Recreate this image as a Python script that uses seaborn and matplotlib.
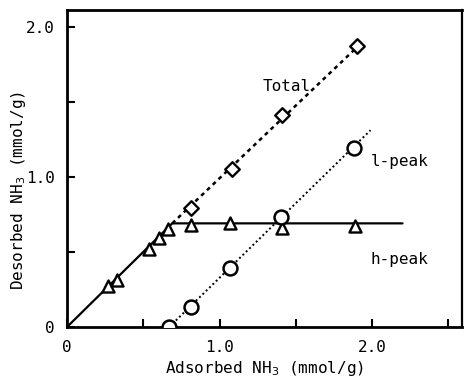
import matplotlib
matplotlib.use("Agg")
import matplotlib.pyplot as plt
import seaborn as sns
import pandas as pd

# Measured points: adsorbed vs desorbed NH3 (mmol/g)
total_x = [0.81, 1.08, 1.41, 1.90]
total_y = [0.79, 1.05, 1.41, 1.87]

lpeak_x = [0.67, 0.81, 1.07, 1.40, 1.88]
lpeak_y = [0.00, 0.13, 0.39, 0.73, 1.19]

hpeak_x = [0.27, 0.33, 0.54, 0.60, 0.66, 0.81, 1.07, 1.41, 1.89]
hpeak_y = [0.27, 0.31, 0.52, 0.59, 0.65, 0.68, 0.69, 0.66, 0.67]

# Guide lines drawn through each series
total_fit_x = [0.69, 1.94]
total_fit_y = [0.69, 1.90]
lpeak_fit_x = [0.67, 1.99]
lpeak_fit_y = [0.00, 1.31]
hpeak_fit_x = [0.00, 0.69, 2.20]
hpeak_fit_y = [0.00, 0.69, 0.69]

x_ticks = [0, 0.5, 1.0, 1.5, 2.0, 2.5]
x_labels = ["0", "", "1.0", "", "2.0", ""]
y_ticks = [0, 0.5, 1.0, 1.5, 2.0]
y_labels = ["0", "", "1.0", "", "2.0"]

sns.set_style("ticks", {"axes.edgecolor": "black", "text.color": "black",
                        "axes.labelcolor": "black", "xtick.color": "black",
                        "ytick.color": "black"})
plt.rcParams["font.family"] = ["DejaVu Sans Mono", "DejaVu Sans"]
FS = 11.5

fig = plt.figure(figsize=(4.66, 3.87), dpi=100)
ax = fig.add_axes([0.1438, 0.155, 0.8476, 0.819])

def fit_df(x, y):
    return pd.DataFrame({"x": x, "y": y})

sns.lineplot(data=fit_df(hpeak_fit_x, hpeak_fit_y), x="x", y="y", ax=ax,
             color="black", linewidth=1.6, sort=False)
sns.lineplot(data=fit_df(total_fit_x, total_fit_y), x="x", y="y", ax=ax,
             color="black", linewidth=1.8, sort=False)
ax.lines[-1].set_dashes([1.6, 1.6])
sns.lineplot(data=fit_df(lpeak_fit_x, lpeak_fit_y), x="x", y="y", ax=ax,
             color="black", linewidth=1.4, sort=False)
ax.lines[-1].set_dashes([1.0, 1.4])

sns.scatterplot(x=hpeak_x, y=hpeak_y, ax=ax, marker="^", s=75,
                facecolor="white", edgecolor="black", linewidth=1.7, zorder=5)
sns.scatterplot(x=total_x, y=total_y, ax=ax, marker="D", s=55,
                facecolor="white", edgecolor="black", linewidth=1.7, zorder=5)
sns.scatterplot(x=lpeak_x, y=lpeak_y, ax=ax, marker="o", s=100,
                facecolor="white", edgecolor="black", linewidth=1.8, zorder=5)

ax.text(1.28, 1.60, "Total", ha="left", va="center", fontsize=FS)
ax.text(1.99, 1.10, "l-peak", ha="left", va="center", fontsize=FS)
ax.text(1.99, 0.45, "h-peak", ha="left", va="center", fontsize=FS)

ax.set_xlim(0, 2.59)
ax.set_ylim(0, 2.11)
ax.set_xticks(x_ticks)
ax.set_xticklabels(x_labels)
ax.set_yticks(y_ticks)
ax.set_yticklabels(y_labels)
ax.tick_params(direction="in", length=6, width=1.5, pad=9, labelsize=FS,
               colors="black")

ax.set_xlabel("Adsorbed NH$_3$ (mmol/g)", fontsize=FS, labelpad=3)
ax.set_ylabel("Desorbed NH$_3$ (mmol/g)", fontsize=FS)
ax.yaxis.set_label_coords(-0.098, 0.43)

for side in ["left", "bottom", "top"]:
    ax.spines[side].set_linewidth(2.0)
ax.spines["right"].set_linewidth(1.6)
for s in ax.spines.values():
    s.set_visible(True)
    s.set_color("black")

fig.savefig("out.png", dpi=100)
